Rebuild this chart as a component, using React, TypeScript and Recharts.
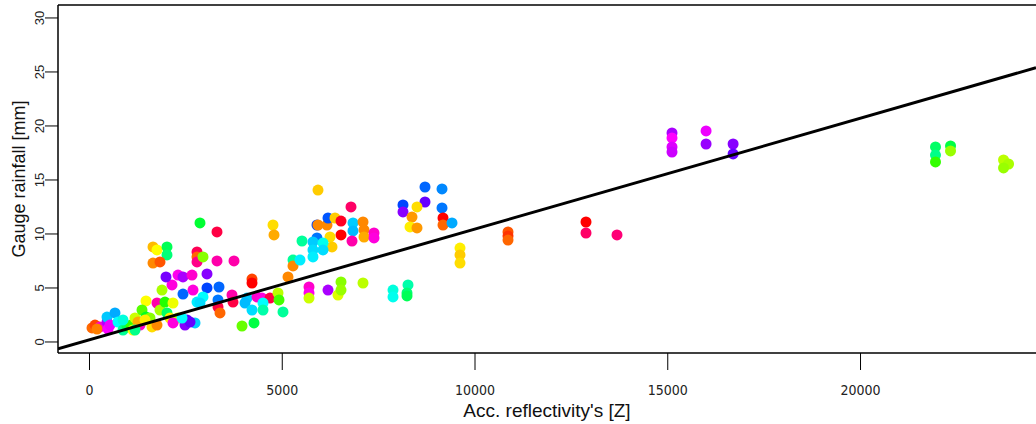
import React from 'react';
import { ScatterChart, Scatter, XAxis, YAxis, Cell, ReferenceLine } from 'recharts';

// accumulated radar reflectivity per gauge/event
const reflectivity = [
  65, 143, 272, 195, 454, 480, 454, 532, 661, 739, 869, 973, 1077, 1180, 1128, 1310, 1258,
  1466, 1362, 1466, 1569, 1621, 1751, 1751, 1829, 1881, 1958, 2010, 2088, 2166, 2140, 1984,
  2296, 2166, 2529, 2477, 2737, 2789, 2296, 2425, 2659, 2425, 2685, 1647, 1751, 2010, 2010,
  1647, 1829, 2866, 3307, 2789, 2789, 2789, 2944, 3307, 3748, 4760, 4786, 5512, 5927, 5901,
  5927, 6161, 6187, 6368, 6524, 6524, 6783, 6835, 6835, 7095, 7121, 7121, 7380, 7380, 6239,
  6291, 6809, 5901, 5797, 5797, 5797, 6057, 6057, 5279, 5279, 5149, 8132, 8132, 8703, 8703,
  8495, 8366, 8314, 8495, 9144, 9144, 9170, 9170, 9403, 9611, 9611, 9611, 10856, 10856, 10856,
  12879, 12879, 13683, 15110, 15110, 15110, 15110, 15994, 15994, 16695, 16695, 21945, 21945,
  21945, 22335, 22335, 23710, 23840, 23710, 5694, 5694, 5694, 6187, 6446, 6524, 6524, 7095,
  7873, 7873, 8262, 8236, 8236, 4215, 4215, 5460, 5019, 3956, 4267, 3048, 3048, 3359, 3696,
  3722, 2944, 2866, 3333, 3333, 3385, 4086, 4034, 4215, 4345, 4475, 4682, 4501, 4501, 4890,
  4916, 2607, 1440, 869, 1180, 2400,
];

// gauge rainfall [mm]
const rainfall = [
  1.3, 1.57, 1.39, 1.2, 1.85, 1.2, 2.31, 1.57, 2.69, 1.85, 1.11, 1.39, 1.57, 2.22, 1.11, 1.57, 1.85,
  3.8, 2.96, 2.31, 2.22, 1.39, 1.57, 3.61, 2.96, 4.81, 3.7, 2.69, 2.22, 3.61, 5.28, 6.02,
  2.22, 1.76, 2.04, 1.57, 1.76, 3.7, 6.2, 6.02, 6.2, 4.44, 4.81, 8.8, 8.52, 8.8, 8.06,
  7.31, 7.41, 11.02, 10.19, 8.33, 7.87, 7.41, 7.87, 7.5, 7.5, 10.83, 9.91, 9.35, 14.07, 10.83,
  10.83, 10.83, 11.48, 11.48, 11.2, 9.91, 12.5, 11.02, 10.28, 11.11, 10.37, 9.72, 10.09, 9.63, 9.72,
  8.8, 9.35, 9.63, 9.26, 8.52, 7.87, 9.17, 8.52, 7.59, 7.04, 6.02, 12.69, 12.04, 14.35, 12.96,
  12.5, 11.57, 10.65, 10.56, 14.17, 12.41, 11.48, 10.83, 11.02, 8.7, 8.06, 7.31, 10.19, 9.81, 9.44,
  11.11, 10.09, 9.91, 19.35, 18.89, 18.06, 17.59, 19.54, 18.33, 18.33, 17.41, 18.06, 17.31,
  16.67, 18.15, 17.69, 16.85, 16.48, 16.11, 5.09, 4.54, 4.07, 4.81, 4.35, 5.56, 4.81, 5.46,
  4.81, 4.17, 5.28, 4.54, 4.26, 5.83, 5.46, 7.59, 2.78, 1.48, 1.76, 6.3, 5.0, 5.09, 4.35,
  3.7, 4.17, 3.61, 3.89, 3.24, 2.69, 4.07, 3.61, 2.96, 4.17, 4.07, 4.07, 3.61, 2.96, 4.54,
  3.89, 1.85, 2.04, 2.04, 1.11, 2.22,
];

const pointColors = [
  '#ff6a00', '#ff4500', '#ff00cc', '#ff7f00', '#b000ff', '#ff00ff', '#00c8ff', '#ee00ff', '#00aaff', '#00ffff', '#00ff99', '#00ff55', '#33ff00', '#ccff00', '#ffff00', '#ff00cc', '#ffaa00',
  '#ffff00', '#55ff00', '#00ff22', '#88ff00', '#ffdd00', '#ff8800', '#ff00aa', '#aaff00', '#aaff00', '#22ff00', '#00ff66', '#ffee00', '#eeff00', '#ff00dd', '#7700ff',
  '#ccff00', '#ff00dd', '#5500ff', '#8800ff', '#00ccff', '#00eeff', '#ff00ee', '#aa00ff', '#ff00cc', '#0066ff', '#ff00dd', '#ffbb00', '#ffff00', '#00ff55', '#00ff77',
  '#ff8800', '#ff5500', '#00ff33', '#ff0044', '#ff0055', '#ff6600', '#ff0088', '#88ff00', '#ff00aa', '#ff00aa', '#ffdd00', '#ffaa00', '#00ff99', '#ffcc00', '#0044ff',
  '#ff8800', '#ff8800', '#0055ff', '#ffcc00', '#ff0022', '#ff0000', '#ff0066', '#00ccff', '#00bbff', '#ff8800', '#ff8800', '#ffaa00', '#ff00cc', '#ff00dd', '#ffdd00',
  '#ffcc00', '#ff00aa', '#0077ff', '#00ccff', '#00ddff', '#00eeff', '#00ffee', '#00ddff', '#00ff99', '#ff8800', '#ff8800', '#0044ff', '#8800ff', '#0066ff', '#6600ff',
  '#ffdd00', '#ff9900', '#ffee00', '#ff9900', '#0088ff', '#0077ff', '#ff0000', '#ff6600', '#00aaff', '#ffee00', '#ffcc00', '#ffdd00', '#ff5500', '#ff3300', '#ff6600',
  '#ff0000', '#ff0066', '#ff0077', '#aa00ff', '#ff00ff', '#dd00ff', '#cc00ff', '#ee00ff', '#9900ff', '#8800ff', '#6600ff', '#00ff66', '#00ff88',
  '#33ff00', '#00ff44', '#99ff00', '#bbff00', '#aaff00', '#99ff00', '#ff00cc', '#ff00ee', '#ccff00', '#aa00ff', '#ddff00', '#88ff00', '#99ff00', '#bbff00',
  '#00ffdd', '#00ffee', '#00ffaa', '#00ff77', '#00ff55', '#ff4400', '#ff0000', '#00eeff', '#00ff99', '#66ff00', '#00ff44', '#8800ff', '#0044ff', '#0066ff', '#ff00aa',
  '#ff0044', '#00ffff', '#00ddff', '#0077ff', '#ff0044', '#ff6600', '#00ccff', '#00bbff', '#00ddff', '#ff00cc', '#ff00dd', '#ff0044', '#00ffff', '#00ffaa', '#bbff00',
  '#44ff00', '#6600ff', '#ffee00', '#00ffdd', '#00ff88', '#00ffff',
];

const xTicks = [0, 5000, 10000, 15000, 20000];
const yTicks = [0, 5, 10, 15, 20, 25, 30];

// linear fit drawn over the points
const fitIntercept = 0.2;
const fitSlope = 0.001026;

const X_MIN = -817;
const X_MAX = 24552;
const Y_MIN = -1.02;
const Y_MAX = 31.2;

const points = reflectivity.map((x, i) => ({ x, y: rainfall[i] }));
const fitLine = [X_MIN, X_MAX].map(x => ({ x, y: fitIntercept + fitSlope * x }));

const YTick = (props: any) => {
  const { x, y, payload } = props;
  return (
    <text
      x={x}
      y={y}
      transform={`rotate(-90 ${x} ${y})`}
      textAnchor="middle"
      fontSize={13}
      fill="#222"
      fontFamily="'Liberation Sans', Arial, sans-serif"
    >
      {payload.value}
    </text>
  );
};

const XTick = (props: any) => {
  const { x, y, payload } = props;
  return (
    <text
      x={x}
      y={y + 25}
      textAnchor="middle"
      fontSize={14}
      fill="#222"
      fontFamily="'Liberation Sans Narrow', 'DejaVu Sans Condensed', sans-serif"
    >
      {payload.value}
    </text>
  );
};

const dot = (props: any) => {
  const { cx, cy, fill } = props;
  return <circle cx={cx} cy={cy} r={5.5} fill={fill} />;
};

export default function App() {
  return (
    <div style={{ position: 'absolute', left: 0, top: 0, width: 1036, height: 424, background: '#fff' }}>
      <ScatterChart width={1036} height={424} margin={{ top: 5, right: 0, left: 0, bottom: 0 }}>
        <XAxis
          type="number"
          dataKey="x"
          domain={[X_MIN, X_MAX]}
          ticks={xTicks}
          allowDataOverflow
          height={71}
          tickSize={17}
          tickMargin={0}
          tick={XTick}
          axisLine={{ stroke: '#000', strokeWidth: 1.5 }}
          tickLine={{ stroke: '#000', strokeWidth: 1 }}
          label={{
            value: "Acc. reflectivity's [Z]",
            position: 'insideBottom',
            offset: 7,
            fontSize: 19,
            fill: '#111',
            fontFamily: "'Liberation Sans', Arial, sans-serif",
          }}
        />
        <YAxis
          type="number"
          dataKey="y"
          domain={[Y_MIN, Y_MAX]}
          ticks={yTicks}
          allowDataOverflow
          width={58}
          tickSize={13}
          tickMargin={1}
          tick={YTick}
          axisLine={{ stroke: '#000', strokeWidth: 1.5 }}
          tickLine={{ stroke: '#000', strokeWidth: 1 }}
          label={{
            value: 'Gauge rainfall [mm]',
            angle: -90,
            position: 'insideLeft',
            offset: 0,
            dx: 19,
            fontSize: 18,
            fill: '#111',
            fontFamily: "'Liberation Sans', Arial, sans-serif",
            style: { textAnchor: 'middle' },
          }}
        />
        <ReferenceLine y={Y_MAX} stroke="#000" strokeWidth={1.5} />
        <Scatter data={points} shape={dot} isAnimationActive={false}>
          {points.map((p, i) => (
            <Cell key={i} fill={pointColors[i]} />
          ))}
        </Scatter>
        <Scatter
          data={fitLine}
          line={{ stroke: '#000', strokeWidth: 3 }}
          shape={() => null}
          isAnimationActive={false}
        />
      </ScatterChart>
    </div>
  );
}
